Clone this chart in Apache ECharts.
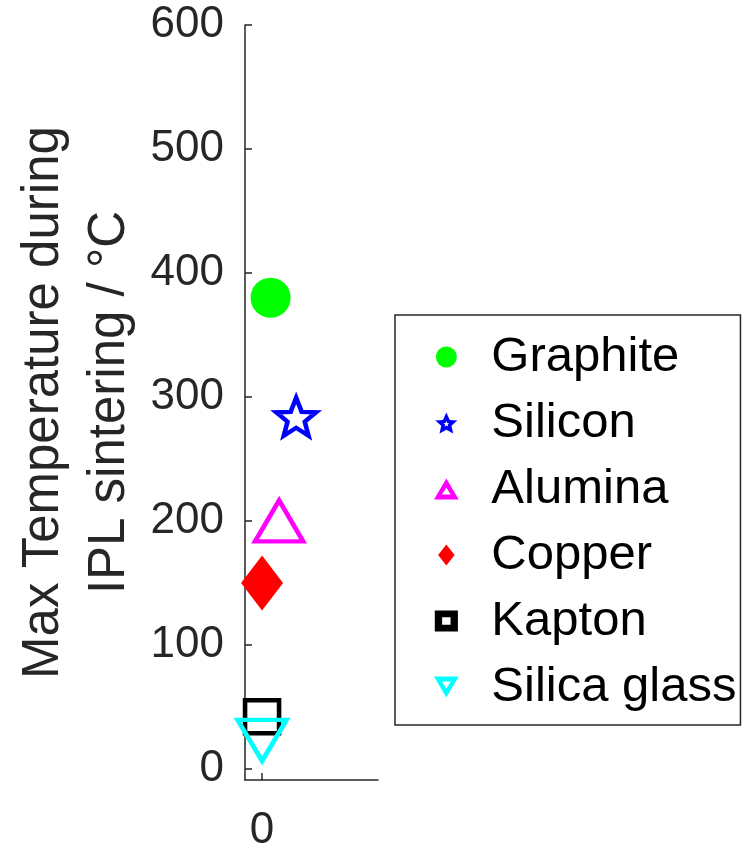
<!DOCTYPE html>
<html><head><meta charset="utf-8">
<script src="https://cdn.jsdelivr.net/npm/echarts@6/dist/echarts.min.js"></script>
<style>html,body{margin:0;padding:0;background:#fff}#c{width:744px;height:846px}</style>
</head><body><div id="c"></div>
<script>
const materials = ['Graphite','Silicon','Alumina','Copper','Kapton','Silica glass'];
const xPos = [0.05, 0.2, 0.1, 0, 0, 0];
const maxTemp = [380, 284, 200, 150, 42, 23];
const colors = ['#00ff00','#0000ff','#ff00ff','#ff0000','#000000','#00ffff'];
const yTicks = [0,100,200,300,400,500,600];
const xTicks = [0];

const star = 'path://M0,-10 L2.6,-3.3 L9.511,-3.09 L4.1,1.4 L5.878,8.09 L0,4.3 L-5.878,8.09 L-4.1,1.4 L-9.511,-3.09 L-2.6,-3.3 Z';
const downTri = 'path://M-6,-5 L6,-5 L0,5 Z';
const styles = [
  {symbol:'circle', size:40, filled:true, lw:0},
  {symbol:star, size:[40,38], filled:false, lw:4.5},
  {symbol:'triangle', size:[48,41], filled:false, lw:4.5},
  {symbol:'diamond', size:[42,55], filled:true, lw:0},
  {symbol:'rect', size:[34,33], filled:false, lw:4.5},
  {symbol:downTri, size:[49,41], filled:false, lw:4.5}
];
// legend icons: small markers with thick outlines (drawn as filled rings)
const legendIcons = [
  'circle',
  'path://M0,-10 L2.9,-3.6 L9.511,-3.09 L4.4,1.5 L5.878,8.09 L0,4.8 L-5.878,8.09 L-4.4,1.5 L-9.511,-3.09 L-2.9,-3.6 Z M0,-2.6 L-0.7,-0.9 L-2.4,-0.8 L-1.1,0.4 L-1.5,2.1 L0,1.2 L1.5,2.1 L1.1,0.4 L2.4,-0.8 L0.7,-0.9 Z',
  'path://M0,-9 L10,8 L-10,8 Z M0,-1.5 L-3.6,4 L3.6,4 Z',
  'path://M0,-14 L11,0 L0,14 L-11,0 Z',
  'path://M-11,-10 L11,-10 L11,10 L-11,10 Z M-4,-3.5 L-4,3.5 L4,3.5 L4,-3.5 Z',
  'path://M-10,-8 L10,-8 L0,9 Z M-3.6,-4 L0,1.8 L3.6,-4 Z'
];
const axisColor = '#262626';
const series = materials.map((m,i)=>({
  name:m, type:'scatter',
  data:[[xPos[i], maxTemp[i]]],
  symbol:styles[i].symbol, symbolSize:styles[i].size,
  itemStyle: styles[i].filled ? {color:colors[i], opacity:1} :
    {color:'rgba(255,255,255,0)', borderColor:colors[i], borderWidth:styles[i].lw, opacity:1},
  emphasis:{disabled:true}
}));
const legendData = materials.map((m,i)=>({
  name:m, icon:legendIcons[i],
  itemStyle:{color:colors[i], borderWidth:0, opacity:1}
}));
const chart = echarts.init(document.getElementById('c'), null, {renderer:'canvas'});
chart.setOption({
  animation:false,
  textStyle:{fontFamily:'Liberation Sans, Arial, sans-serif'},
  grid:{left:245, right:366, top:25, bottom:66, containLabel:false, outerBoundsMode:'none'},
  xAxis:{type:'value', min:-0.1, max:0.68,
    splitLine:{show:false},
    axisLine:{show:true, onZero:false, lineStyle:{color:axisColor, width:1.5}},
    axisTick:{show:true, inside:true, length:7, customValues:xTicks, lineStyle:{color:axisColor, width:1.5}},
    axisLabel:{show:true, customValues:xTicks, color:axisColor, fontSize:44, margin:29, fontFamily:'Liberation Sans'}
  },
  yAxis:{type:'value', min:-9, max:600,
    name:'Max Temperature during\nIPL sintering / °C', nameLocation:'middle', nameGap:102,
    nameTextStyle:{color:axisColor, fontSize:51, lineHeight:66, fontFamily:'Liberation Sans'},
    splitLine:{show:false},
    axisLine:{show:true, onZero:false, lineStyle:{color:axisColor, width:1.5}},
    axisTick:{show:true, inside:true, length:7, customValues:yTicks, lineStyle:{color:axisColor, width:1.5}},
    axisLabel:{show:true, customValues:yTicks, color:axisColor, fontSize:44, margin:21, fontFamily:'Liberation Sans'}
  },
  legend:{show:true, orient:'vertical', left:395, top:315,
    data:legendData, itemWidth:28, itemHeight:21, itemGap:0,
    symbolKeepAspect:true,
    padding:[9,4,5,39],
    borderColor:axisColor, borderWidth:1.5, backgroundColor:'#fff',
    textStyle:{fontSize:49, lineHeight:66, color:'#000', padding:[0,0,0,26], fontFamily:'Liberation Sans'},
    selectedMode:false
  },
  series:series
});
</script></body></html>
